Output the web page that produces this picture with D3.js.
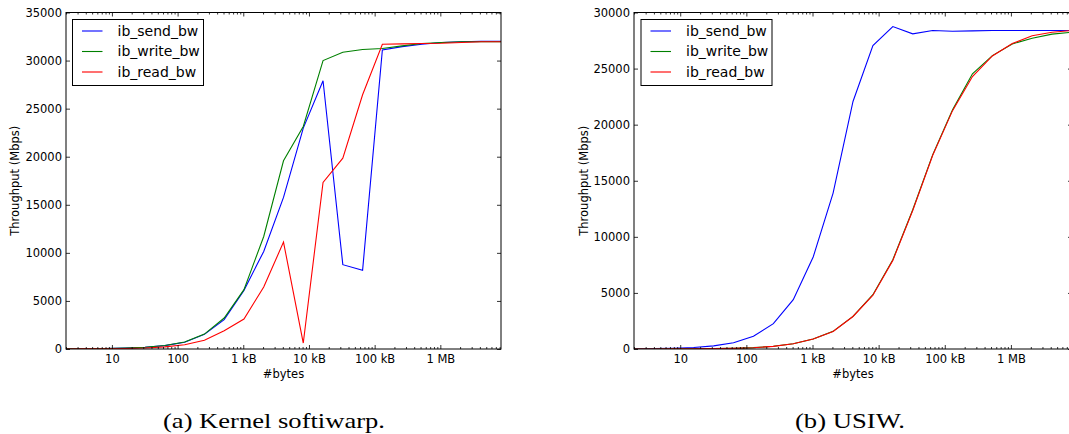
<!DOCTYPE html>
<html lang="en">
<head>
<meta charset="UTF-8">
<script src="https://cdn.jsdelivr.net/npm/d3@7"></script>
<style>
    body { margin: 0; background: #ffffff; }
    svg { display: block; font-family: "DejaVu Sans", sans-serif; }
    .caption { font-family: "Liberation Serif", "DejaVu Serif", serif; font-size: 22px; }
</style>
</head>
<body>
<div id="chart"></div>
<script>
// message sizes (bytes), 2^1 .. 2^23
const sizes = [2, 4, 8, 16, 32, 64, 128, 256, 512, 1024, 2048, 4096, 8192, 16384,
    32768, 65536, 131072, 262144, 524288, 1048576, 2097152, 4194304, 8388608];

// (a) Kernel softiwarp, Mbps
const kernelSend = [11, 22, 44, 88, 175, 350, 700, 1520, 3050, 6100, 10150, 15770, 22970, 27900,
    8770, 8180, 31100, 31450, 31700, 31880, 31950, 32000, 32000];
const kernelWrite = [11, 22, 45, 90, 180, 360, 720, 1550, 3220, 6170, 11700, 19580, 23150, 30000,
    30870, 31150, 31250, 31530, 31780, 31880, 31950, 31950, 31950];
const kernelRead = [7, 14, 28, 55, 110, 225, 450, 900, 1900, 3120, 6450, 11120, 620, 17330,
    19850, 26440, 31700, 31740, 31770, 31800, 31880, 31950, 31950];

// (b) USIW, Mbps
const usiwSend = [18, 36, 70, 140, 280, 560, 1130, 2260, 4400, 8200, 13900, 22070, 27060, 28750,
    28100, 28390, 28330, 28360, 28390, 28390, 28390, 28390, 28390];
const usiwWrite = [2, 4, 8, 15, 30, 60, 120, 240, 475, 890, 1575, 2910, 4840, 7960,
    12410, 17310, 21320, 24530, 26160, 27200, 27710, 28070, 28240];
const usiwRead = [2, 4, 8, 15, 30, 60, 115, 235, 470, 885, 1570, 2900, 4800, 7900,
    12350, 17250, 21250, 24290, 26130, 27230, 27920, 28240, 28390];

const seriesNames = ["ib_send_bw", "ib_write_bw", "ib_read_bw"];
const seriesColors = ["#0000ff", "#008000", "#ff0000"];
const legendColors = ["#0000ff", "#008000", "#ff7070"];

const majorX = [10, 100, 1e3, 1e4, 1e5, 1e6];
const majorXLabels = ["10", "100", "1 kB", "10 kB", "100 kB", "1 MB"];

const width = 1069, height = 434;
const svg = d3.select("#chart").append("svg")
    .attr("width", width)
    .attr("height", height);

// minor ticks 2..9 x decade inside the domain
const minorX = [];
[1, 10, 100, 1e3, 1e4, 1e5, 1e6].forEach(dec => {
    for (let m = 2; m <= 9; m++) {
        const v = m * dec;
        if (v >= 2 && v <= 8388608) minorX.push(v);
    }
});

function drawPanel(opts) {
    const { x0, x1, y0, y1, yMax, data, ylabelX, legendX, caption, captionX, captionW, id } = opts;

    const x = d3.scaleLog().domain([2, 8388608]).range([x0, x1]);
    const y = d3.scaleLinear().domain([0, yMax]).range([y1, y0]);
    const yTicks = d3.range(0, yMax + 1, 5000);

    svg.append("clipPath").attr("id", "clip" + id)
        .append("rect").attr("x", x0).attr("y", y0).attr("width", x1 - x0).attr("height", y1 - y0);

    const g = svg.append("g");

    // lines
    const line = d3.line()
        .x((d, i) => x(sizes[i]))
        .y(d => y(d));
    data.forEach((s, i) => {
        g.append("path")
            .datum(s)
            .attr("clip-path", `url(#clip${id})`)
            .attr("fill", "none")
            .attr("stroke", seriesColors[i])
            .attr("stroke-width", 1.1)
            .attr("d", line);
    });

    // bottom axis
    g.append("g").attr("transform", `translate(0,${y1})`)
        .call(d3.axisBottom(x).tickValues(majorX).tickSizeInner(-4).tickSizeOuter(0).tickPadding(6)
            .tickFormat((d, i) => majorXLabels[i]));
    g.append("g").attr("transform", `translate(0,${y1})`)
        .call(d3.axisBottom(x).tickValues(minorX).tickSizeInner(-2).tickSizeOuter(0).tickFormat(""));
    // top axis
    g.append("g").attr("transform", `translate(0,${y0})`)
        .call(d3.axisTop(x).tickValues(majorX).tickSizeInner(-4).tickSizeOuter(0).tickFormat(""));
    g.append("g").attr("transform", `translate(0,${y0})`)
        .call(d3.axisTop(x).tickValues(minorX).tickSizeInner(-2).tickSizeOuter(0).tickFormat(""));
    // left / right axes
    g.append("g").attr("transform", `translate(${x0},0)`)
        .call(d3.axisLeft(y).tickValues(yTicks).tickSizeInner(-4).tickSizeOuter(0).tickPadding(4)
            .tickFormat(d3.format("d")));
    g.append("g").attr("transform", `translate(${x1},0)`)
        .call(d3.axisRight(y).tickValues(yTicks).tickSizeInner(-4).tickSizeOuter(0).tickFormat(""));

    g.selectAll(".domain").remove();
    g.selectAll(".tick line").attr("stroke", "#000").attr("stroke-width", 0.8);
    g.selectAll(".tick text").attr("font-size", 11.5).attr("fill", "#000")
        .attr("font-family", "DejaVu Sans, sans-serif");

    // frame
    g.append("rect")
        .attr("x", x0).attr("y", y0)
        .attr("width", x1 - x0).attr("height", y1 - y0)
        .attr("fill", "none").attr("stroke", "#000").attr("stroke-width", 1);

    // axis labels
    g.append("text")
        .attr("x", (x0 + x1) / 2).attr("y", 378)
        .attr("text-anchor", "middle")
        .attr("font-size", 11.5)
        .text("#bytes");
    g.append("text")
        .attr("transform", `translate(${ylabelX},${(y0 + y1) / 2}) rotate(-90)`)
        .attr("text-anchor", "middle")
        .attr("dy", "0.35em")
        .attr("font-size", 11.5)
        .text("Throughput (Mbps)");

    // legend
    const lg = g.append("g").attr("transform", `translate(${legendX},19.5)`);
    lg.append("rect")
        .attr("width", 131).attr("height", 66)
        .attr("fill", "#fff").attr("stroke", "#000").attr("stroke-width", 1);
    seriesNames.forEach((name, i) => {
        const cy = 11.5 + i * 20.5;
        lg.append("line")
            .attr("x1", 9.5).attr("x2", 30)
            .attr("y1", cy).attr("y2", cy)
            .attr("stroke", legendColors[i])
            .attr("stroke-width", i === 2 ? 2 : 1.1);
        lg.append("text")
            .attr("x", 45).attr("y", cy)
            .attr("dy", "0.35em")
            .attr("font-size", 14)
            .text(name);
    });

    // caption
    svg.append("text")
        .attr("class", "caption")
        .attr("x", captionX - captionW / 2).attr("y", 428)
        .attr("textLength", captionW)
        .attr("lengthAdjust", "spacingAndGlyphs")
        .text(caption);
}

drawPanel({
    id: "a", x0: 66, x1: 501, y0: 12.5, y1: 349, yMax: 35000,
    data: [kernelSend, kernelWrite, kernelRead],
    ylabelX: 15, legendX: 72.5, caption: "(a) Kernel softiwarp.", captionX: 274, captionW: 222
});
drawPanel({
    id: "b", x0: 634, x1: 1072, y0: 12.5, y1: 349, yMax: 30000,
    data: [usiwSend, usiwWrite, usiwRead],
    ylabelX: 584, legendX: 641, caption: "(b) USIW.", captionX: 850, captionW: 110
});
</script>
</body>
</html>
